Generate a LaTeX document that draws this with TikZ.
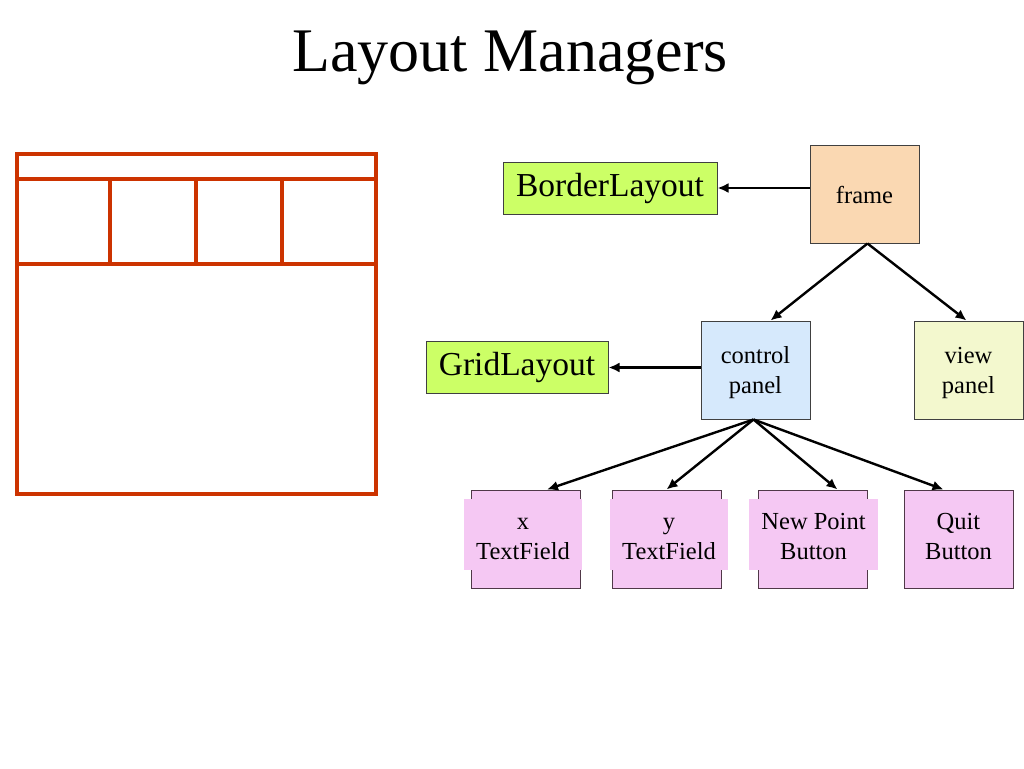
\documentclass[tikz,border=0pt]{standalone}
\usepackage{fontspec}
\setmainfont{Liberation Serif}
\usetikzlibrary{arrows.meta}
\definecolor{gridred}{HTML}{CC3300}
\definecolor{laygreen}{HTML}{CCFF66}
\definecolor{framepeach}{HTML}{FAD8B2}
\definecolor{ctrlblue}{HTML}{D6E9FC}
\definecolor{viewyellow}{HTML}{F3F8CE}
\definecolor{widpink}{HTML}{F5C8F3}
\definecolor{boxline}{HTML}{404040}
\definecolor{widline}{HTML}{503848}
\newcommand{\ls}{\rule[-4pt]{0pt}{27pt}}

\begin{document}
\begin{tikzpicture}[x=1pt,y=-1pt,
  txt/.style={font=\fontsize{24.5}{30}\selectfont},
  box/.style={txt,draw=boxline,line width=1pt,minimum width=109pt,minimum height=98pt,inner sep=0pt,align=center},
  lay/.style={draw=boxline,line width=1pt,fill=laygreen,minimum height=52pt,inner sep=0pt,font=\fontsize{33.5}{40}\selectfont},
  wid/.style={box,fill=widpink,draw=widline},
  widtext/.style={txt,fill=widpink,inner xsep=12pt,inner ysep=7pt,align=center},
  arr/.style={-{Latex[length=11pt,width=10pt]},line width=2.4pt}]
  \useasboundingbox (0,0) rectangle (1024,768);

  \node[anchor=base,font=\fontsize{62}{70}\selectfont] (title) at (510,71) {Layout Managers};

  \draw[gridred,line width=4pt] (17,154) rectangle (376,494);
  \draw[gridred,line width=4pt] (17,179) -- (376,179);
  \draw[gridred,line width=4pt] (17,264) -- (376,264);
  \foreach \x in {110,196,282}
    \draw[gridred,line width=4pt] (\x,179) -- (\x,264);

  \node[box,fill=framepeach] (frame) at (864.5,194) {\ls frame};
  \node[box,fill=ctrlblue] (ctrl) at (755.5,370) {\ls control\\\ls panel};
  \node[box,fill=viewyellow] (view) at (968.5,370) {\ls view\\\ls panel};
  \node[lay,minimum width=214pt] (border) at (610,188) {BorderLayout};
  \node[lay,minimum width=182pt] (grid) at (517,367.5) {GridLayout};

  \node[wid] (xtf) at (526,539) {};
  \node[wid] (ytf) at (666.5,539) {};
  \node[wid] (newpt) at (812.5,539) {};
  \node[wid] (quit) at (958.5,539) {};
  \node[widtext] (xtf-text) at ([xshift=-3pt,yshift=4.5pt]xtf) {\ls x\\\ls TextField};
  \node[widtext] (ytf-text) at ([xshift=2.5pt,yshift=4.5pt]ytf) {\ls y\\\ls TextField};
  \node[widtext] (newpt-text) at ([xshift=1pt,yshift=4.5pt]newpt) {\ls New Point\\\ls Button};
  \node[widtext] (quit-text) at ([yshift=4.5pt]quit) {\ls Quit\\\ls Button};

  \draw[arr] (frame.west |- border.east) -- (border.east);
  \draw[arr] (ctrl.west |- grid.east) -- (grid.east);
  \draw[arr] ([xshift=3pt]frame.south) -- ([xshift=15pt]ctrl.north);
  \draw[arr] ([xshift=3pt]frame.south) -- ([xshift=-2pt]view.north);
  \draw[arr] ([xshift=-2pt]ctrl.south) -- ([xshift=21pt]xtf.north);
  \draw[arr] ([xshift=-2pt]ctrl.south) -- (ytf.north);
  \draw[arr] ([xshift=-2pt]ctrl.south) -- ([xshift=25pt]newpt.north);
  \draw[arr] ([xshift=-2pt]ctrl.south) -- ([xshift=-15pt]quit.north);
\end{tikzpicture}
\end{document}
